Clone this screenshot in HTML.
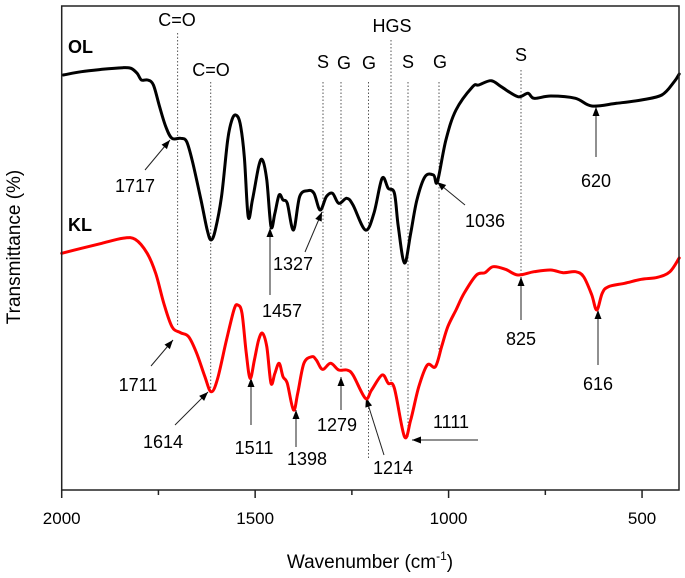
<!DOCTYPE html>
<html><head><meta charset="utf-8"><style>
html,body{margin:0;padding:0;background:#fff;}
svg{display:block;font-family:"Liberation Sans",Arial,sans-serif;}
</style></head><body>
<svg id="chart" width="685" height="578" viewBox="0 0 685 578" xmlns="http://www.w3.org/2000/svg">
<g id="annot"></g>
<g id="series"></g>
<rect x="61.7" y="6" width="617.3" height="484" fill="none" stroke="#222" stroke-width="1.5"/>
<g id="axis"></g>
<text x="370" y="568" font-size="19" text-anchor="middle">Wavenumber (cm<tspan font-size="12" dy="-8">-1</tspan><tspan dy="8">)</tspan></text>
<text transform="translate(20,247) rotate(-90)" font-size="19" text-anchor="middle">Transmittance (%)</text>
<text x="68" y="53" font-size="18" font-weight="bold">OL</text>
<text x="68" y="231" font-size="18" font-weight="bold">KL</text>
</svg>
<script>
const olWavenumbers=[1996,1949,1895,1842,1821,1805,1794,1778,1763,1747,1731,1715,1693,1677,1661,1640,1624,1614,1603,1587,1571,1560,1550,1539,1528,1518,1507,1491,1481,1470,1459,1449,1438,1428,1417,1401,1385,1364,1348,1332,1316,1300,1284,1263,1247,1215,1193,1172,1156,1140,1130,1114,1098,1082,1061,1039,1029,1007,981,938,922,890,864,821,795,779,736,672,630,566,502,449,417,404];
const olValues=[415,418.3,420.7,422.3,421.7,416.7,410,410,405,383.3,363.3,351.7,351.7,348.3,326.7,290,260,250,260,293.3,350,370,375,366.7,333.3,273.3,290,323.3,330,310,263.3,276.7,295,290,286.7,260,293.3,299.3,296.7,280,293.3,296.7,286.7,291.7,285,260,276.7,311.7,301.7,296.7,263.3,227,256.7,290,313.3,315,308.3,350,380,403.3,405,409.3,403.3,393.3,396.7,391.7,394,391.7,384,386.7,390,395,408.3,416];
const klWavenumbers=[2000,1949,1896,1842,1810,1779,1757,1736,1715,1693,1672,1651,1630,1614,1598,1576,1555,1545,1534,1523,1513,1502,1491,1481,1470,1459,1449,1438,1428,1417,1401,1390,1374,1353,1342,1326,1305,1284,1263,1247,1215,1199,1172,1156,1140,1114,1098,1077,1055,1034,1018,1002,981,960,928,906,885,853,821,779,736,704,672,651,630,617,603,587,545,502,460,428,404];
const klValues=[236.7,241.7,246.7,251.7,250.7,236.7,216.7,186.7,163.3,157.3,153.3,136.7,113.3,98.3,110,146.7,180,185,176.7,136.7,111.7,130,150,156.7,143.3,106.7,116.7,126.7,113.3,106.7,80,96.7,126.7,133.3,130,120.7,126.7,120,120,115,91.7,100,115,106.7,101.7,53.3,70,103.3,125,123.3,143.3,163.3,180,196.7,215,217.3,223.3,220.7,215,218.3,220,217.3,218.3,213.3,195,180,196.7,203.3,206.7,210.7,212.7,218.3,232];
const tickValues=[2000,1500,1000,500];
const minorTickValues=[1750,1250,750];
const tickLabels=["2000","1500","1000","500"];

const X0=61.7,PX=0.3869,YB=490;
function xs(w){return X0+(2000-w)*PX;}
function ys(v){return YB-v;}
const NS="http://www.w3.org/2000/svg";
function mk(tag,parent,attrs){const e=document.createElementNS(NS,tag);for(const k in attrs)e.setAttribute(k,attrs[k]);parent.appendChild(e);return e;}

const ser=document.getElementById('series');
function drawLine(ws,vs,color,name){
  const pts=ws.map((w,i)=>[xs(w),ys(vs[i])]);
  let d='M'+pts[0][0].toFixed(1)+','+pts[0][1].toFixed(1);
  for(let i=0;i<pts.length-1;i++){
    const p0=pts[Math.max(0,i-1)],p1=pts[i],p2=pts[i+1],p3=pts[Math.min(pts.length-1,i+2)];
    const t=6;
    const c1x=p1[0]+(p2[0]-p0[0])/t,c1y=p1[1]+(p2[1]-p0[1])/t;
    const c2x=p2[0]-(p3[0]-p1[0])/t,c2y=p2[1]-(p3[1]-p1[1])/t;
    d+='C'+c1x.toFixed(1)+','+c1y.toFixed(1)+' '+c2x.toFixed(1)+','+c2y.toFixed(1)+' '+p2[0].toFixed(1)+','+p2[1].toFixed(1);
  }
  const p=mk('path',ser,{d:d,fill:'none',stroke:color,'stroke-width':3,'stroke-linejoin':'round','stroke-linecap':'round'});
  
  
}
drawLine(olWavenumbers,olValues,'#000','ol-spectrum');
drawLine(klWavenumbers,klValues,'#f00','kl-spectrum');

const ax=document.getElementById('axis');
tickValues.forEach((t,i)=>{
  const x=xs(t);
  const l=mk('line',ax,{x1:x,x2:x,y1:YB,y2:YB+8,stroke:'#222','stroke-width':1.5});
  
  
  const tx=mk('text',ax,{x:x,y:YB+34,'font-size':17,'text-anchor':'middle'});
  tx.textContent=tickLabels[i];
  
  
});
minorTickValues.forEach(t=>{
  const x=xs(t);
  const l=mk('line',ax,{x1:x,x2:x,y1:YB,y2:YB+5,stroke:'#222','stroke-width':1.5});
  
  
});

const an=document.getElementById('annot');
[[177.6,33,327],[210.7,82,390],[323,82,360],[341,82,372],[368.5,82,460],[391,40,387],[408,82,437],[439,82,360],[521,70,275]].forEach(g=>{
  const l=mk('line',an,{x1:g[0],x2:g[0],y1:g[1],y2:g[2],stroke:'#555','stroke-width':1,'stroke-dasharray':'1.5,2'});
  
  
});
[["C=O",177,26],["C=O",211,76],["S",323,68],["G",344,69],["G",369,69],["HGS",392,32],["S",408,68],["G",440,68],["S",521,61]].forEach(b=>{
  const t=mk('text',an,{x:b[1],y:b[2],'font-size':18,'text-anchor':'middle'});
  t.textContent=b[0];
  
  
});
[["1717",135,192,145,170,170,140],["1036",485,227,465,205,437,182],["620",596,187,596,157,596,107],["1327",293,270,305,252,322,212],["1457",282,317,270,295,270,228],
 ["1711",138,391,151,366,173,340],["1614",163,448,175,425,208,392],["1511",254,454,251,425,251,378],["1398",307,465,296,447,296,410],["1279",337,431,341,410,341,377],["1214",393,474,384,455,366,398],["1111",451,428,478,440,412,440],["825",521,345,521,320,521,277],["616",598,390,598,365,598,310]].forEach(a=>{
  const t=mk('text',an,{x:a[1],y:a[2],'font-size':18,'text-anchor':'middle'});
  t.textContent=a[0];
  
  
  const l=mk('line',an,{x1:a[3],y1:a[4],x2:a[5],y2:a[6],stroke:'#222','stroke-width':1});
  
  
  const ang=Math.atan2(a[6]-a[4],a[5]-a[3]);
  const L=9,W=3.5,bx=a[5]-L*Math.cos(ang),by=a[6]-L*Math.sin(ang);
  const px=-Math.sin(ang)*W,py=Math.cos(ang)*W;
  const h=mk('polygon',an,{points:`${a[5]},${a[6]} ${bx+px},${by+py} ${bx-px},${by-py}`,fill:'#000'});
  
  
});
</script>
</body></html>
